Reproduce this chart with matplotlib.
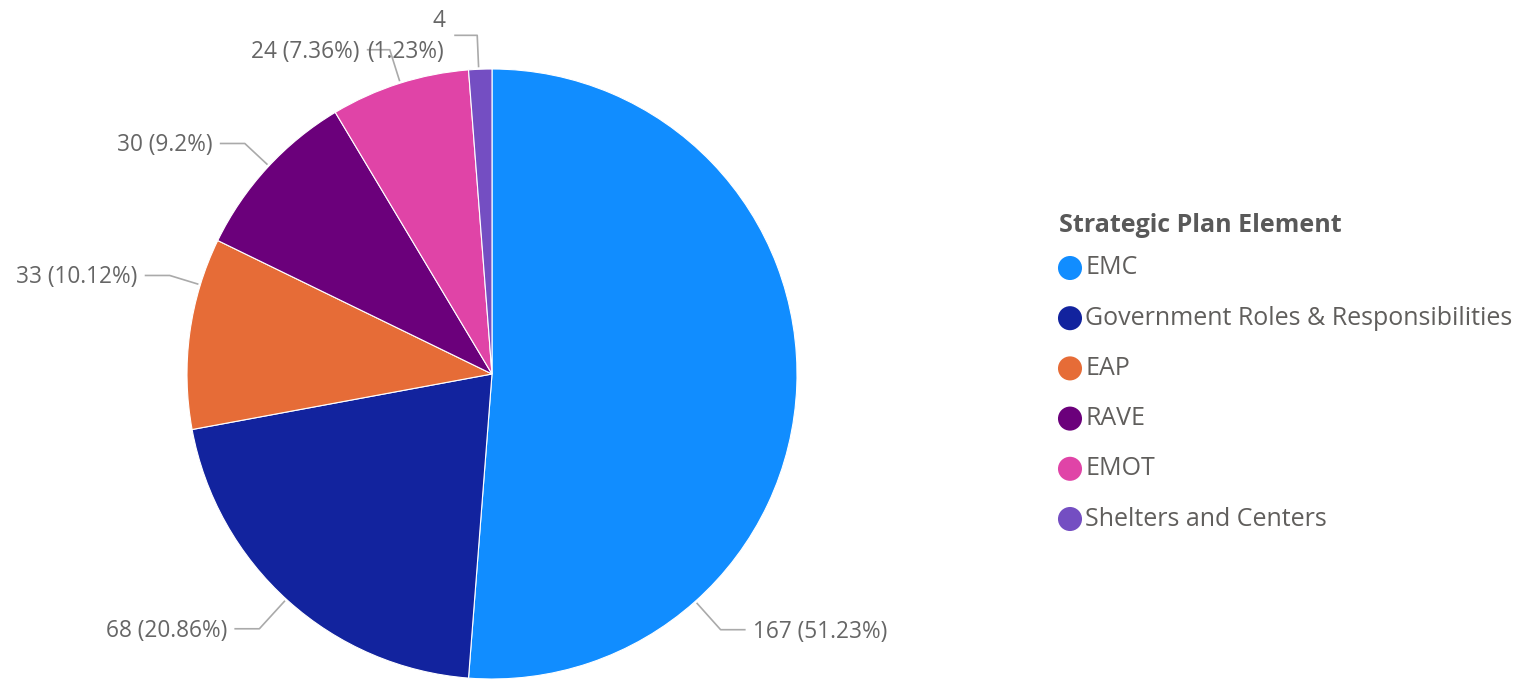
import matplotlib.pyplot as plt
import numpy as np

# data
categories = ['EMC', 'Government Roles & Responsibilities', 'EAP', 'RAVE', 'EMOT', 'Shelters and Centers']
values = [167, 68, 33, 30, 24, 4]
pct_labels = ['51.23%', '20.86%', '10.12%', '9.2%', '7.36%', '1.23%']
colors = ['#118DFF', '#12239E', '#E66C37', '#6B007B', '#E044A7', '#744EC2']

# layout (pixel space, y up)
W, H = 1539, 680
cx, cy, r = 492, H - 374, 305
# angle (deg) on the rim where each leader line starts, and side of the label
anchor_angles = [-48.2, -132.4, 163.0, 137.0, 107.5, 92.5]
label_side = [1, -1, -1, -1, -1, -1]
radial_len = [36, 38, 30, 31, 33, 32]
horiz_len = [25, 25, 25, 25, 23, 23]

plt.rcParams['font.family'] = ['Open Sans', 'DejaVu Sans']
fig = plt.figure(figsize=(W / 100, H / 100), dpi=100)
ax = fig.add_axes([0, 0, 1, 1])

ax.pie(values, colors=colors, startangle=90, counterclock=False,
       center=(cx, cy), radius=r, frame=True,
       wedgeprops=dict(edgecolor='white', linewidth=0.8))
ax.set_xlim(0, W)
ax.set_ylim(0, H)
ax.set_aspect('equal')
ax.axis('off')

line_col = '#aaaaaa'
text_col = '#666666'
fs = 16.3
for i in range(len(values)):
    a = np.radians(anchor_angles[i])
    x0, y0 = cx + (r + 2) * np.cos(a), cy + (r + 2) * np.sin(a)
    x1, y1 = cx + (r + 2 + radial_len[i]) * np.cos(a), cy + (r + 2 + radial_len[i]) * np.sin(a)
    s = label_side[i]
    x2 = x1 + s * horiz_len[i]
    ax.plot([x0, x1, x2], [y0, y1, y1], color=line_col, lw=1.2, solid_capstyle='butt')
    ha = 'left' if s > 0 else 'right'
    if i == len(values) - 1:
        # small slice: label wraps onto two lines
        ax.text(x2 - 9, y1 + 14, str(values[i]), ha='right', va='center',
                fontsize=fs, color=text_col)
        ax.text(x2 - 10, y1 - 17, '(' + pct_labels[i] + ')', ha='right', va='center',
                fontsize=fs, color=text_col)
    else:
        ax.text(x2 + s * 7, y1 - 2, '%d (%s)' % (values[i], pct_labels[i]), ha=ha, va='center',
                fontsize=fs, color=text_col)

# legend
lx, ly0, dy = 1070, H - 268, 50.2
ax.text(lx - 11, H - 225, 'Strategic Plan Element', ha='left', va='center',
        fontsize=18, fontweight='bold', color='#595959')
for i, cat in enumerate(categories):
    y = ly0 - i * dy
    ax.scatter([lx], [y], s=300, color=colors[i], edgecolors='none')
    ax.text(lx + 15, y, cat, ha='left', va='center', fontsize=18, color='#605E5C')

fig.savefig('out.png', dpi=100, facecolor='white')
